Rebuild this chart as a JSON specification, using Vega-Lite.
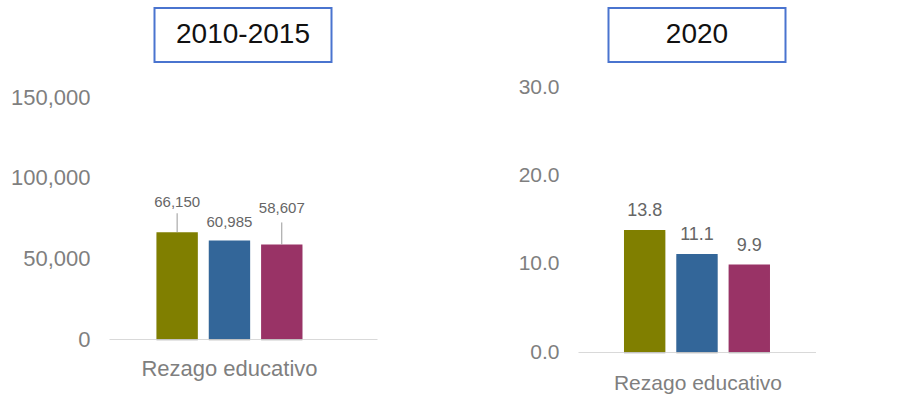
{
  "$schema": "https://vega.github.io/schema/vega-lite/v6.json",
  "padding": {"left": 10, "top": 7, "right": 0, "bottom": 30},
  "background": "white",
  "config": {"view": {"stroke": null}, "font": "Liberation Sans"},
  "datasets": {
    "p1": [
      {"categoria": "Rezago educativo", "serie": "Serie 1", "valor": 66150},
      {"categoria": "Rezago educativo", "serie": "Serie 2", "valor": 60985},
      {"categoria": "Rezago educativo", "serie": "Serie 3", "valor": 58607}
    ],
    "p2": [
      {"categoria": "Rezago educativo", "serie": "Serie 1", "valor": 13.8},
      {"categoria": "Rezago educativo", "serie": "Serie 2", "valor": 11.1},
      {"categoria": "Rezago educativo", "serie": "Serie 3", "valor": 9.9}
    ],
    "t1": [{"t": "2010-2015"}],
    "t2": [{"t": "2020"}]
  },
  "spacing": 141,
  "hconcat": [
    {
      "bounds": "flush",
      "center": true,
      "spacing": 35,
      "vconcat": [
        {
          "width": 177,
          "height": 54,
          "view": {"stroke": "#4a74cf", "strokeWidth": 2},
          "data": {"name": "t1"},
          "mark": {"type": "text", "fontSize": 28, "color": "#111111", "baseline": "middle", "align": "center"},
          "encoding": {"text": {"field": "t"}}
        },
        {
          "width": 268,
          "height": 242,
          "data": {"name": "p1"},
          "encoding": {
            "x": {"field": "categoria", "type": "nominal",
              "scale": {"paddingInner": 0, "paddingOuter": 0.4178, "align": 0.389},
              "axis": {"title": null, "labelAngle": 0, "ticks": false, "tickSize": 0, "domainColor": "#d9d9d9", "labelFontSize": 22, "labelColor": "#7f7f7f", "labelPadding": 19}},
            "xOffset": {"field": "serie", "type": "nominal", "scale": {"paddingInner": 0.2095, "paddingOuter": 0}},
            "y": {"field": "valor", "type": "quantitative",
              "scale": {"domain": [0, 150000]},
              "axis": {"title": null, "values": [0, 50000, 100000, 150000], "format": ",d", "grid": false, "domain": false, "ticks": false, "tickSize": 0, "labelPadding": 19, "labelFontSize": 22, "labelColor": "#7f7f7f"}}
          },
          "layer": [
            {"mark": {"type": "bar", "color": "#000000", "opacity": 0.1, "x2Offset": 4, "xOffset": 3, "yOffset": 2, "y2Offset": 1}},
            {"mark": {"type": "bar"},
             "encoding": {"color": {"field": "serie", "type": "nominal", "scale": {"domain": ["Serie 1", "Serie 2", "Serie 3"], "range": ["#807f00", "#336699", "#993366"]}, "legend": null}}},
            {"transform": [{"filter": "datum.serie === 'Serie 1'"}],
             "mark": {"type": "rule", "color": "#999999", "strokeWidth": 1, "y2Offset": -19},
             "encoding": {"y2": {"field": "valor"}}},
            {"transform": [{"filter": "datum.serie === 'Serie 3'"}],
             "mark": {"type": "rule", "color": "#999999", "strokeWidth": 1, "y2Offset": -22},
             "encoding": {"y2": {"field": "valor"}}},
            {"transform": [{"filter": "datum.serie === 'Serie 1'"}],
             "mark": {"type": "text", "fontSize": 15, "color": "#666666", "baseline": "alphabetic", "dy": -25},
             "encoding": {"text": {"field": "valor", "format": ",d"}}},
            {"transform": [{"filter": "datum.serie === 'Serie 2'"}],
             "mark": {"type": "text", "fontSize": 15, "color": "#666666", "baseline": "alphabetic", "dy": -14},
             "encoding": {"text": {"field": "valor", "format": ",d"}}},
            {"transform": [{"filter": "datum.serie === 'Serie 3'"}],
             "mark": {"type": "text", "fontSize": 15, "color": "#666666", "baseline": "alphabetic", "dy": -31},
             "encoding": {"text": {"field": "valor", "format": ",d"}}}
          ]
        }
      ]
    },
    {
      "bounds": "flush",
      "center": true,
      "spacing": 25,
      "vconcat": [
        {
          "width": 177,
          "height": 54,
          "view": {"stroke": "#4a74cf", "strokeWidth": 2},
          "data": {"name": "t2"},
          "mark": {"type": "text", "fontSize": 28, "color": "#111111", "baseline": "middle", "align": "center"},
          "encoding": {"text": {"field": "t"}}
        },
        {
          "width": 238,
          "height": 265,
          "data": {"name": "p2"},
          "encoding": {
            "x": {"field": "categoria", "type": "nominal",
              "scale": {"paddingInner": 0, "paddingOuter": 0.304, "align": 0.511},
              "axis": {"title": null, "labelAngle": 0, "ticks": false, "tickSize": 0, "domainColor": "#d9d9d9", "labelFontSize": 21, "labelColor": "#7f7f7f", "labelPadding": 20}},
            "xOffset": {"field": "serie", "type": "nominal", "scale": {"paddingInner": 0.2075, "paddingOuter": 0}},
            "y": {"field": "valor", "type": "quantitative",
              "scale": {"domain": [0, 30]},
              "axis": {"title": null, "values": [0, 10, 20, 30], "format": ".1f", "grid": false, "domain": false, "ticks": false, "tickSize": 0, "labelPadding": 19, "labelFontSize": 21, "labelColor": "#7f7f7f"}}
          },
          "layer": [
            {"mark": {"type": "bar", "color": "#000000", "opacity": 0.1, "x2Offset": 4, "xOffset": 3, "yOffset": 2, "y2Offset": 1}},
            {"mark": {"type": "bar"},
             "encoding": {"color": {"field": "serie", "type": "nominal", "scale": {"domain": ["Serie 1", "Serie 2", "Serie 3"], "range": ["#807f00", "#336699", "#993366"]}, "legend": null}}},
            {"mark": {"type": "text", "fontSize": 18, "color": "#666666", "baseline": "alphabetic", "dy": -14},
             "encoding": {"text": {"field": "valor", "format": ".1f"}}}
          ]
        }
      ]
    }
  ]
}
